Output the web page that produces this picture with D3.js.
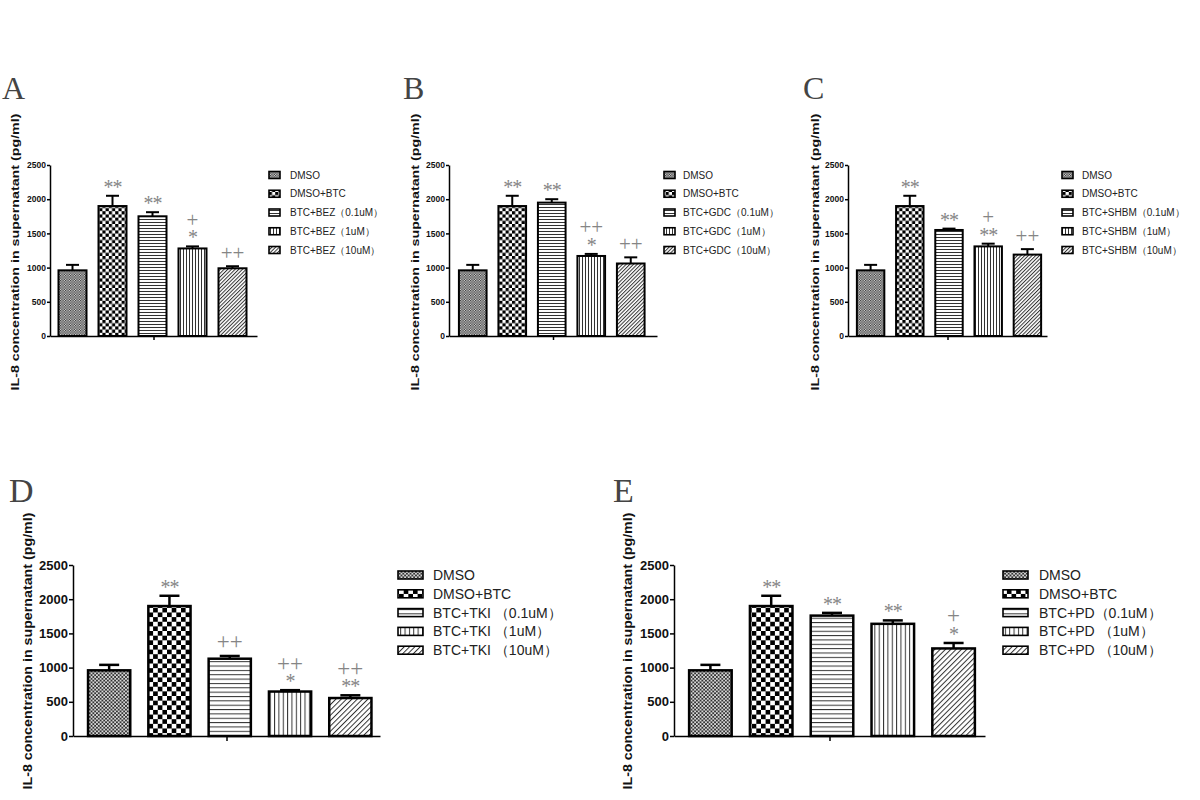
<!DOCTYPE html>
<html>
<head>
<meta charset="utf-8">
<script src="https://cdn.jsdelivr.net/npm/d3@7"></script>
<style>
  html,body{margin:0;padding:0;background:#fff;}
  svg{display:block;}
  text{-webkit-font-smoothing:antialiased;}
</style>
</head>
<body>
<svg id="chart" width="1200" height="800"></svg>
<script>
// ---------------- DATA ----------------
const yTicks = [0, 500, 1000, 1500, 2000, 2500];
const yLabel = "IL-8 concentration in supernatant (pg/ml)";
const panelLetters = ["A", "B", "C", "D", "E"];

const labelsA = ["DMSO", "DMSO+BTC", "BTC+BEZ（0.1uM）", "BTC+BEZ（1uM）", "BTC+BEZ（10uM）"];
const labelsB = ["DMSO", "DMSO+BTC", "BTC+GDC（0.1uM）", "BTC+GDC（1uM）", "BTC+GDC（10uM）"];
const labelsC = ["DMSO", "DMSO+BTC", "BTC+SHBM（0.1uM）", "BTC+SHBM（1uM）", "BTC+SHBM（10uM）"];
const labelsD = ["DMSO", "DMSO+BTC", "BTC+TKI （0.1uM）", "BTC+TKI （1uM）", "BTC+TKI （10uM）"];
const labelsE = ["DMSO", "DMSO+BTC", "BTC+PD（0.1uM）", "BTC+PD （1uM）", "BTC+PD （10uM）"];

const meansA = [960, 1900, 1750, 1280, 990];
const errsA  = [80, 150, 60, 30, 30];
const meansB = [960, 1900, 1950, 1170, 1060];
const errsB  = [80, 150, 50, 30, 90];
const meansC = [960, 1900, 1550, 1310, 1190];
const errsC  = [80, 150, 20, 40, 80];
const meansD = [960, 1900, 1130, 650, 555];
const errsD  = [80, 150, 40, 20, 40];
const meansE = [960, 1900, 1760, 1640, 1280];
const errsE  = [80, 150, 40, 50, 80];

const starsA = ["", "**", "**", "*", ""];
const plusA  = ["", "", "", "+", "++"];
const starsB = ["", "**", "**", "*", ""];
const plusB  = ["", "", "", "++", "++"];
const starsC = ["", "**", "**", "**", ""];
const plusC  = ["", "", "", "+", "++"];
const starsD = ["", "**", "", "*", "**"];
const plusD  = ["", "", "++", "++", "++"];
const starsE = ["", "**", "**", "**", "*"];
const plusE  = ["", "", "", "", "+"];

// ---------------- LAYOUT ----------------
const up = {yTop:165, yBase:336, s:1, tickFont:8.5, tickLen:3, stroke:2, cap:13, labelFont:11, labelY:252,
            legSw:11, legSh:7, legTy:175, legDy:18.75, legFont:10, letterSize:32, letterY:99, plusFont:21};
const lo = {yTop:565, yBase:736, s:1.45, tickFont:13, tickLen:4, stroke:2.5, cap:20, labelFont:13, labelY:651,
            legSw:25, legSh:8, legTy:575, legDy:18.8, legFont:14, letterSize:34, letterY:502, plusFont:23};

const panels = [
  {letter:panelLetters[0], labels:labelsA, means:meansA, errs:errsA, stars:starsA, plus:plusA, g:up,
   axisX:50, xEnd:257, band:[52.5,252.5], labelX:15, letterX:2, legSx:269, legTx:290},
  {letter:panelLetters[1], labels:labelsB, means:meansB, errs:errsB, stars:starsB, plus:plusB, g:up,
   axisX:449, xEnd:657, band:[453,650.5], labelX:415, letterX:403, legSx:664, legTx:683},
  {letter:panelLetters[2], labels:labelsC, means:meansC, errs:errsC, stars:starsC, plus:plusC, g:up,
   axisX:848, xEnd:1047, band:[851,1047], labelX:815, letterX:803, legSx:1062, legTx:1082},
  {letter:panelLetters[3], labels:labelsD, means:meansD, errs:errsD, stars:starsD, plus:plusD, g:lo,
   axisX:73, xEnd:380, band:[79,380.5], labelX:27, letterX:9, legSx:398, legTx:433},
  {letter:panelLetters[4], labels:labelsE, means:meansE, errs:errsE, stars:starsE, plus:plusE, g:lo,
   axisX:674, xEnd:985, band:[680,984], labelX:627, letterX:613, legSx:1003, legTx:1039}
];

const svg = d3.select("#chart");
const defs = svg.append("defs");

function makePatterns(key, s) {
  // 0: fine grey mesh
  const c0 = 1.25 * s;
  let p = defs.append("pattern").attr("id", `p0-${key}`).attr("patternUnits","userSpaceOnUse")
    .attr("width", c0*2).attr("height", c0*2);
  p.append("rect").attr("width", c0*2).attr("height", c0*2).attr("fill", "#d8d8d8");
  p.append("rect").attr("width", c0).attr("height", c0).attr("fill", "#333");
  p.append("rect").attr("x", c0).attr("y", c0).attr("width", c0).attr("height", c0).attr("fill", "#333");
  // 1: checkerboard
  const c1 = 3.2 * s;
  p = defs.append("pattern").attr("id", `p1-${key}`).attr("patternUnits","userSpaceOnUse")
    .attr("width", c1*2).attr("height", c1*2);
  p.append("rect").attr("width", c1*2).attr("height", c1*2).attr("fill", "#fff");
  p.append("rect").attr("width", c1).attr("height", c1).attr("fill", "#000");
  p.append("rect").attr("x", c1).attr("y", c1).attr("width", c1).attr("height", c1).attr("fill", "#000");
  // 2: horizontal lines
  const c2 = 3 * s;
  p = defs.append("pattern").attr("id", `p2-${key}`).attr("patternUnits","userSpaceOnUse")
    .attr("width", 10).attr("height", c2);
  p.append("rect").attr("width", 10).attr("height", c2).attr("fill", "#fff");
  p.append("rect").attr("y", 0).attr("width", 10).attr("height", 1).attr("fill", "#333");
  // 3: vertical lines
  p = defs.append("pattern").attr("id", `p3-${key}`).attr("patternUnits","userSpaceOnUse")
    .attr("width", c2).attr("height", 10);
  p.append("rect").attr("width", c2).attr("height", 10).attr("fill", "#fff");
  p.append("rect").attr("x", 0).attr("width", 1).attr("height", 10).attr("fill", "#333");
  // 4: diagonal lines
  const c4 = 2.6 * s;
  p = defs.append("pattern").attr("id", `p4-${key}`).attr("patternUnits","userSpaceOnUse")
    .attr("width", c4).attr("height", c4).attr("patternTransform", "rotate(45)");
  p.append("rect").attr("width", c4).attr("height", c4).attr("fill", "#fff");
  p.append("rect").attr("x", 0).attr("width", 1).attr("height", c4).attr("fill", "#333");
}
makePatterns("up", 1);
makePatterns("lo", 1.45);

panels.forEach(P => {
  const g = P.g;
  const key = g === up ? "up" : "lo";
  const root = svg.append("g");
  const y = d3.scaleLinear().domain([0, 2500]).range([g.yBase, g.yTop]);
  const x = d3.scaleBand().domain(P.labels).range(P.band).paddingInner(0.3).paddingOuter(0.15);

  root.append("text").attr("x", P.letterX).attr("y", g.letterY)
    .attr("font-family", "Liberation Serif, Times New Roman, serif")
    .attr("font-size", g.letterSize).attr("fill", "#444").text(P.letter);

  root.append("text")
    .attr("transform", `translate(${P.labelX},${g.labelY}) rotate(-90)`)
    .attr("text-anchor", "middle").attr("dominant-baseline", "central")
    .attr("font-family", "Liberation Sans, Arial, sans-serif").attr("font-weight", "bold")
    .attr("font-size", g.labelFont).attr("fill", "#111")
    .attr("textLength", 277).attr("lengthAdjust", "spacingAndGlyphs")
    .text(yLabel);

  root.append("g").selectAll("rect").data(P.means).join("rect")
    .attr("x", (d, i) => x(P.labels[i]))
    .attr("y", d => y(d))
    .attr("width", x.bandwidth())
    .attr("height", d => y(0) - y(d))
    .attr("fill", (d, i) => `url(#p${i}-${key})`)
    .attr("stroke", "#000").attr("stroke-width", g.stroke);

  const eg = root.append("g").attr("stroke", "#000").attr("stroke-width", g.stroke);
  P.means.forEach((m, i) => {
    const cx = x(P.labels[i]) + x.bandwidth() / 2;
    const top = y(m + P.errs[i]);
    eg.append("line").attr("x1", cx).attr("x2", cx).attr("y1", y(m)).attr("y2", top);
    eg.append("line").attr("x1", cx - g.cap/2).attr("x2", cx + g.cap/2).attr("y1", top).attr("y2", top);
  });

  // significance marks: one text per bar, plus line above star line
  P.means.forEach((m, i) => {
    if (!P.stars[i] && !P.plus[i]) return;
    const cx = x(P.labels[i]) + x.bandwidth() / 2;
    const c = y(m + P.errs[i]) - 12.5;
    const t = root.append("text").attr("x", cx).attr("text-anchor", "middle")
      .attr("font-family", "Liberation Serif, Times New Roman, serif").attr("fill", "#858585");
    if (P.plus[i] && P.stars[i]) {
      t.attr("y", c - 13 + 6);
      t.append("tspan").attr("x", cx).attr("font-size", g.plusFont).text(P.plus[i]);
      t.append("tspan").attr("x", cx).attr("dy", 17.5).attr("font-size", 20)
        .attr("letter-spacing", -1).text(P.stars[i]);
    } else if (P.plus[i]) {
      t.attr("y", c + 6).attr("font-size", g.plusFont).text(P.plus[i]);
    } else {
      t.attr("y", c + 10.5).attr("font-size", 20).attr("letter-spacing", -1).text(P.stars[i]);
    }
  });

  const ya = root.append("g").attr("transform", `translate(${P.axisX},0)`)
    .call(d3.axisLeft(y).tickValues(yTicks).tickFormat(d3.format("d"))
      .tickSize(g.tickLen).tickPadding(1).tickSizeOuter(0));
  ya.select(".domain").attr("stroke", "#000").attr("stroke-width", 1.5);
  ya.selectAll(".tick line").attr("stroke", "#000").attr("stroke-width", 1.5);
  ya.selectAll(".tick text").attr("font-family", "Liberation Sans, Arial, sans-serif")
    .attr("font-weight", "bold").attr("font-size", g.tickFont).attr("fill", "#111");

  const xa = d3.scaleLinear().domain([0, 1]).range([P.axisX, P.xEnd]);
  const xg = root.append("g").attr("transform", `translate(0,${g.yBase})`)
    .call(d3.axisBottom(xa).tickValues([0.5]).tickFormat("").tickSize(g.tickLen + 1).tickSizeOuter(0));
  xg.select(".domain").attr("stroke", "#000").attr("stroke-width", 1.5);
  xg.selectAll(".tick line").attr("stroke", "#000").attr("stroke-width", 1.5);

  const lg = root.append("g");
  P.labels.forEach((lab, i) => {
    const ly = g.legTy + i * g.legDy;
    lg.append("rect").attr("x", P.legSx).attr("y", ly - g.legSh/2)
      .attr("width", g.legSw).attr("height", g.legSh)
      .attr("fill", `url(#p${i}-${key})`).attr("stroke", "#000").attr("stroke-width", 1.6);
    lg.append("text").attr("x", P.legTx).attr("y", ly).attr("dominant-baseline", "central")
      .attr("font-family", "Liberation Sans, Arial, sans-serif").attr("font-size", g.legFont)
      .attr("fill", "#222").text(lab);
  });
});
</script>
</body>
</html>
